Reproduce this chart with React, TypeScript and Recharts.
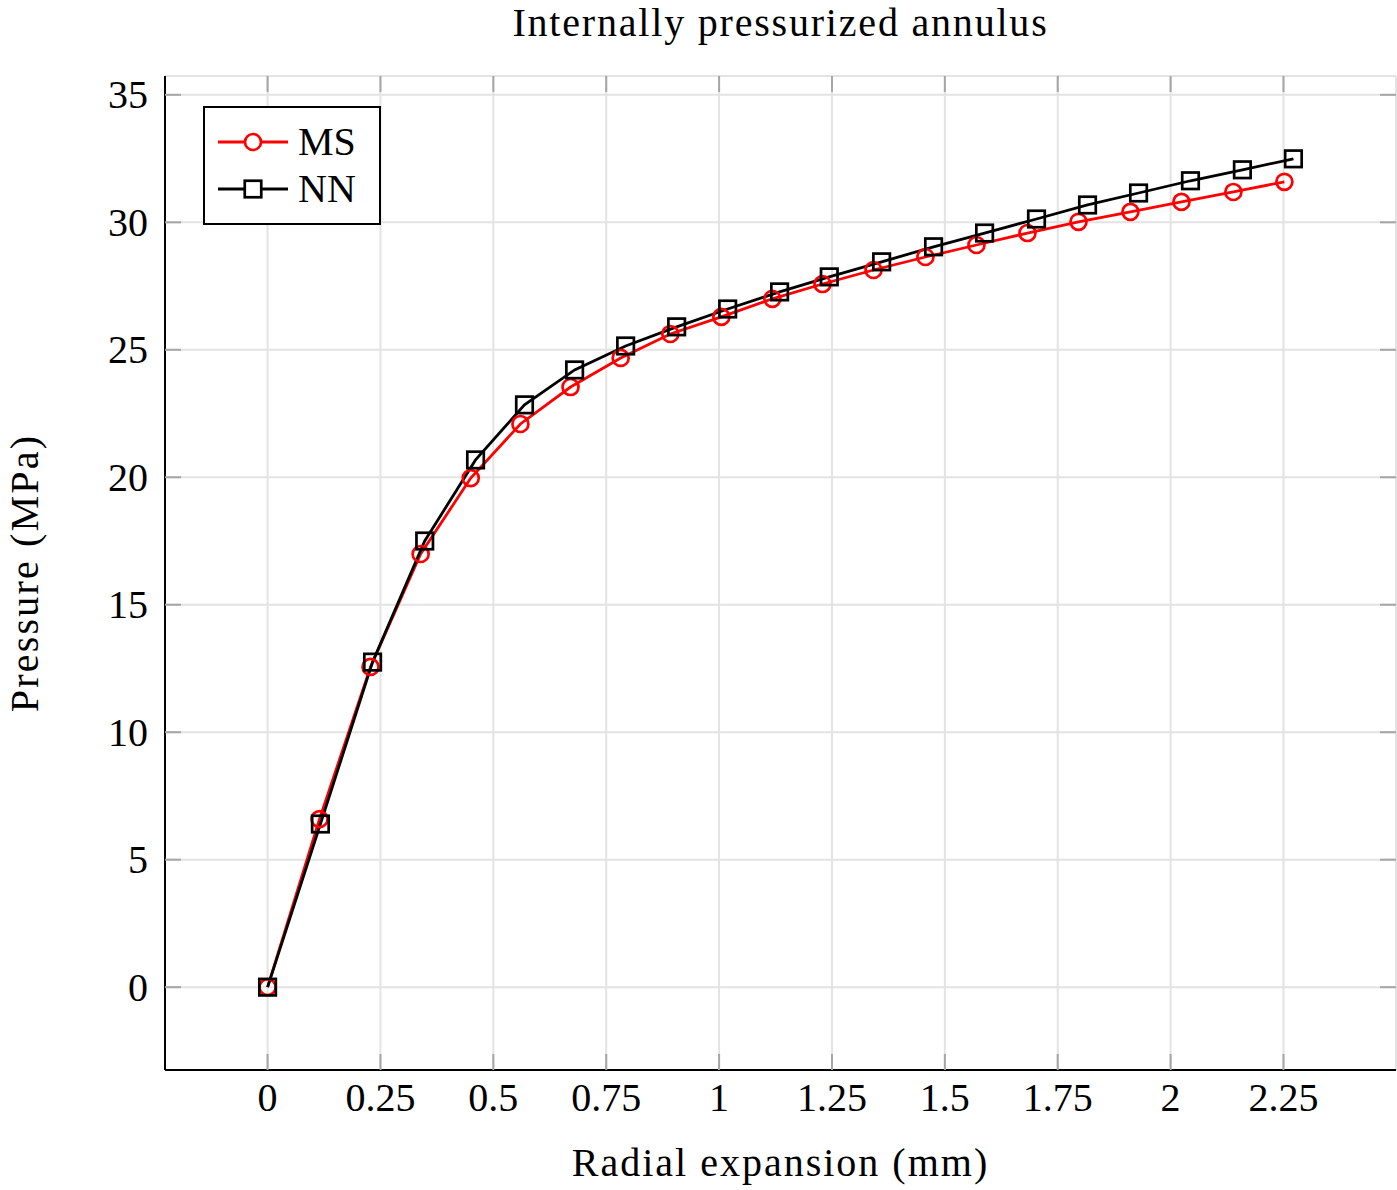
import React from 'react';
import { LineChart, Line, XAxis, YAxis, CartesianGrid, Legend } from 'recharts';

// ---- data ----
const msX = [0, 0.115, 0.228, 0.339, 0.45, 0.56, 0.671, 0.782, 0.892, 1.005, 1.118, 1.229, 1.342, 1.457, 1.57, 1.683, 1.796, 1.911, 2.024, 2.139, 2.252];
const msY = [0, 6.59, 12.56, 16.99, 19.97, 22.09, 23.54, 24.68, 25.62, 26.29, 27.0, 27.58, 28.13, 28.64, 29.11, 29.58, 30.02, 30.41, 30.8, 31.19, 31.59];
const nnX = [0, 0.117, 0.2325, 0.348, 0.4606, 0.569, 0.68, 0.793, 0.906, 1.019, 1.134, 1.244, 1.36, 1.475, 1.588, 1.703, 1.816, 1.929, 2.044, 2.159, 2.272];
const nnY = [0, 6.4, 12.75, 17.5, 20.68, 22.84, 24.21, 25.15, 25.9, 26.6, 27.27, 27.86, 28.45, 29.04, 29.58, 30.13, 30.68, 31.15, 31.63, 32.06, 32.49];
const xTicks = [0, 0.25, 0.5, 0.75, 1, 1.25, 1.5, 1.75, 2, 2.25];
const yTicks = [0, 5, 10, 15, 20, 25, 30, 35];
const seriesNames = ['MS', 'NN'];
const titleText = 'Internally pressurized annulus';
const xLabelText = 'Radial expansion (mm)';
const yLabelText = 'Pressure (MPa)';

const msData = msX.map((x, i) => ({ x, y: msY[i] }));
const nnData = nnX.map((x, i) => ({ x, y: nnY[i] }));

const allX = [...msX, ...nnX];
const allY = [...msY, ...nnY];
const enlarge = (vals: number[]) => {
  const mn = Math.min(...vals);
  const mx = Math.max(...vals);
  const r = mx - mn;
  return [mn - 0.1 * r, mx + 0.1 * r];
};
const xDomain = enlarge(allX);
const yDomain = enlarge(allY);

// ---- layout ----
const W = 1397;
const H = 1190;
const PLOT_LEFT = 165;
const PLOT_RIGHT = 1396;
const PLOT_TOP = 76;
const PLOT_BOTTOM = 1070;
const TICK_LEN = 16;
const TICK_COLOR = '#a6a6a6';
const GRID_COLOR = '#e3e3e3';
const FONT = "'Liberation Serif', 'Times New Roman', serif";
const FS = 40;
const RED = '#ff0000';
const LW = 2.8;
const MW = 2.7;
const CIRCLE_R = 8;
const SQ = 16.5;

const XTick = (props: any) => {
  const { x, payload } = props;
  return (
    <g>
      <line x1={x} x2={x} y1={PLOT_BOTTOM} y2={PLOT_BOTTOM - TICK_LEN} stroke={TICK_COLOR} strokeWidth={2} />
      <line x1={x} x2={x} y1={PLOT_TOP} y2={PLOT_TOP + TICK_LEN} stroke={TICK_COLOR} strokeWidth={2} />
      <text x={x} y={1111} textAnchor="middle" fontFamily={FONT} fontSize={FS} fill="#000">
        {String(payload.value)}
      </text>
    </g>
  );
};

const YTick = (props: any) => {
  const { y, payload } = props;
  return (
    <g>
      <line x1={PLOT_LEFT} x2={PLOT_LEFT + TICK_LEN} y1={y} y2={y} stroke={TICK_COLOR} strokeWidth={2} />
      <line x1={PLOT_RIGHT} x2={PLOT_RIGHT - TICK_LEN} y1={y} y2={y} stroke={TICK_COLOR} strokeWidth={2} />
      <text x={148} y={y + 13.5} textAnchor="end" fontFamily={FONT} fontSize={FS} fill="#000">
        {String(payload.value)}
      </text>
    </g>
  );
};

const SquareDot = (props: any) => {
  const { cx, cy, index } = props;
  if (cx == null || cy == null) return <g key={`sq-${index}`} />;
  return (
    <rect key={`sq-${index}`} x={cx - SQ / 2} y={cy - SQ / 2} width={SQ} height={SQ} fill="none" stroke="#000" strokeWidth={MW} />
  );
};

const LegendContent = () => {
  const rows = [
    { name: seriesNames[0], color: RED, shape: 'circle' },
    { name: seriesNames[1], color: '#000', shape: 'square' },
  ];
  return (
    <div
      style={{
        boxSizing: 'border-box',
        width: 178,
        height: 119,
        border: '2px solid #000',
        background: '#fff',
        position: 'relative',
      }}
    >
      {rows.map((r, i) => (
        <div key={r.name} style={{ position: 'absolute', left: 0, top: 34 + i * 47 - 20, height: 40, width: 178 }}>
          <svg width={90} height={40} style={{ position: 'absolute', left: 0, top: 0 }}>
            <line x1={13} x2={83} y1={20} y2={20} stroke={r.color} strokeWidth={LW} />
            {r.shape === 'circle' ? (
              <circle cx={48} cy={20} r={CIRCLE_R} fill="#fff" stroke={r.color} strokeWidth={MW} />
            ) : (
              <rect x={48 - SQ / 2} y={20 - SQ / 2} width={SQ} height={SQ} fill="#fff" stroke={r.color} strokeWidth={MW} />
            )}
          </svg>
          <span
            style={{
              position: 'absolute',
              left: 93,
              top: 0,
              lineHeight: '40px',
              fontFamily: FONT,
              fontSize: FS,
              color: '#000',
              whiteSpace: 'nowrap',
            }}
          >
            {r.name}
          </span>
        </div>
      ))}
    </div>
  );
};

const YLabelAndTitle = () => (
  <g>
    <text
      x={38}
      y={(PLOT_TOP + PLOT_BOTTOM) / 2}
      transform={`rotate(-90, 38, ${(PLOT_TOP + PLOT_BOTTOM) / 2})`}
      textAnchor="middle"
      fontFamily={FONT}
      fontSize={FS}
      letterSpacing={2.2}
      fill="#000"
    >
      {yLabelText}
    </text>
    <text x={(PLOT_LEFT + PLOT_RIGHT) / 2} y={36} textAnchor="middle" fontFamily={FONT} fontSize={FS} letterSpacing={1.8} fill="#000">
      {titleText}
    </text>
  </g>
);

export default function App() {
  return (
    <div style={{ position: 'absolute', left: 0, top: 0, width: W, height: H, background: '#fff' }}>
      <LineChart width={W} height={H} margin={{ top: PLOT_TOP, right: W - PLOT_RIGHT, bottom: 0, left: 0 }}>
        <CartesianGrid stroke={GRID_COLOR} strokeWidth={2} />
        <XAxis
          xAxisId={0}
          type="number"
          dataKey="x"
          domain={xDomain}
          ticks={xTicks}
          allowDataOverflow
          height={H - PLOT_BOTTOM}
          tickLine={false}
          axisLine={{ stroke: '#000', strokeWidth: 2 }}
          tick={XTick}
          interval={0}
          label={{
            content: () => (
              <text x={(PLOT_LEFT + PLOT_RIGHT) / 2} y={1176} textAnchor="middle" fontFamily={FONT} fontSize={FS} letterSpacing={2} fill="#000">
                {xLabelText}
              </text>
            ),
          }}
        />
        <XAxis
          xAxisId="top"
          orientation="top"
          type="number"
          dataKey="x"
          domain={xDomain}
          allowDataOverflow
          height={0}
          tick={false}
          tickLine={false}
          axisLine={{ stroke: '#000', strokeWidth: 2 }}
        />
        <YAxis
          yAxisId={0}
          type="number"
          dataKey="y"
          domain={yDomain}
          ticks={yTicks}
          allowDataOverflow
          width={PLOT_LEFT}
          tickLine={false}
          axisLine={{ stroke: '#000', strokeWidth: 2 }}
          tick={YTick}
          interval={0}
          label={{ content: YLabelAndTitle }}
        />
        <YAxis
          yAxisId="right"
          orientation="right"
          type="number"
          domain={yDomain}
          allowDataOverflow
          width={0}
          tick={false}
          tickLine={false}
          axisLine={{ stroke: '#000', strokeWidth: 2 }}
        />
        <Legend
          layout="vertical"
          align="center"
          verticalAlign="middle"
          content={LegendContent}
          wrapperStyle={{ position: 'absolute', left: 203, top: 106, width: 178, height: 119 }}
        />
        <Line
          data={msData}
          dataKey="y"
          name={seriesNames[0]}
          xAxisId={0}
          yAxisId={0}
          stroke={RED}
          strokeWidth={LW}
          dot={{ r: CIRCLE_R, fill: 'none', stroke: RED, strokeWidth: MW }}
          activeDot={false}
          isAnimationActive={false}
        />
        <Line
          data={nnData}
          dataKey="y"
          name={seriesNames[1]}
          xAxisId={0}
          yAxisId={0}
          stroke="#000"
          strokeWidth={LW}
          dot={SquareDot}
          activeDot={false}
          isAnimationActive={false}
        />
      </LineChart>
    </div>
  );
}
